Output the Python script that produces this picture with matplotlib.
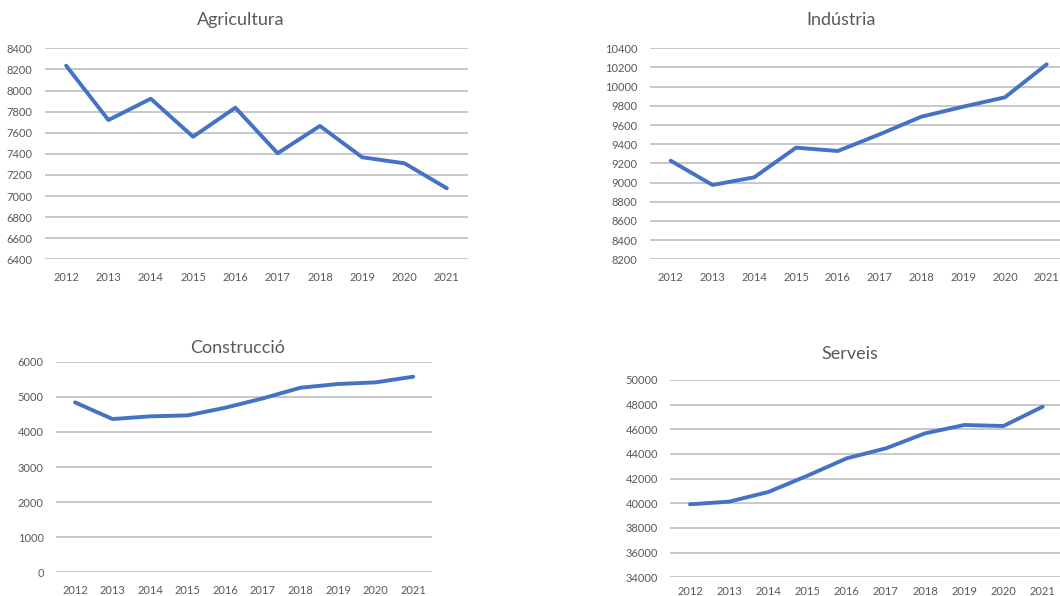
import matplotlib
matplotlib.use("Agg")
import matplotlib.pyplot as plt

years = ["2012", "2013", "2014", "2015", "2016", "2017", "2018", "2019", "2020", "2021"]
agricultura = [8235, 7720, 7922, 7562, 7837, 7405, 7664, 7367, 7310, 7073]
industria = [9228, 8975, 9055, 9364, 9329, 9503, 9687, 9791, 9889, 10233]
construccio = [4841, 4367, 4443, 4471, 4689, 4955, 5259, 5364, 5411, 5573]
serveis = [39919, 40135, 40919, 42243, 43649, 44459, 45676, 46351, 46270, 47838]

titles = ["Agricultura", "Indústria", "Construcció", "Serveis"]
series = [agricultura, industria, construccio, serveis]
yticks = [
    list(range(6400, 8401, 200)),
    list(range(8200, 10401, 200)),
    list(range(0, 6001, 1000)),
    list(range(34000, 50001, 2000)),
]

plt.rcParams['font.family'] = ['Lato', 'DejaVu Sans']

W, H = 1060, 596
fig = plt.figure(figsize=(W / 100, H / 100), dpi=100)

# pixel boxes: left, right, top, bottom
boxes = [
    (45, 468, 48.3, 259.3),
    (649.8, 1067.6, 48.3, 259.3),
    (56.2, 432, 361.7, 572.3),
    (670.4, 1062.3, 380, 577.3),
]
title_pos = [(241, 20), (841, 20), (238, 348), (850, 354)]
xpads = [9, 9, 9, 6]

LINE = "#4472C4"
GRID = "#C8C8C8"
TXT = "#595959"

for i in range(4):
    l, r, t, b = boxes[i]
    ax = fig.add_axes([l / W, 1 - b / H, (r - l) / W, (b - t) / H])
    x = list(range(len(years)))
    ax.plot(x, series[i], color=LINE, lw=2.8, solid_capstyle='round', solid_joinstyle='round', clip_on=False)
    ax.set_xlim(-0.5, len(years) - 0.5)
    ax.set_ylim(yticks[i][0], yticks[i][-1])
    ax.set_yticks(yticks[i])
    ax.set_yticklabels([str(v) for v in yticks[i]])
    ax.set_xticks(x)
    ax.set_xticklabels(years)
    ax.tick_params(axis='both', length=0, labelsize=8, labelcolor=TXT)
    ax.tick_params(axis='y', pad=9)
    ax.tick_params(axis='x', pad=xpads[i])
    ax.grid(axis='y', color=GRID, lw=1.4)
    ax.set_axisbelow(True)
    for s in ax.spines.values():
        s.set_visible(False)
    ax.set_facecolor('none')
    tx, ty = title_pos[i]
    fig.text(tx / W, 1 - ty / H, titles[i], ha='center', va='center', fontsize=13, color=TXT)

fig.savefig("out.png", dpi=100)
